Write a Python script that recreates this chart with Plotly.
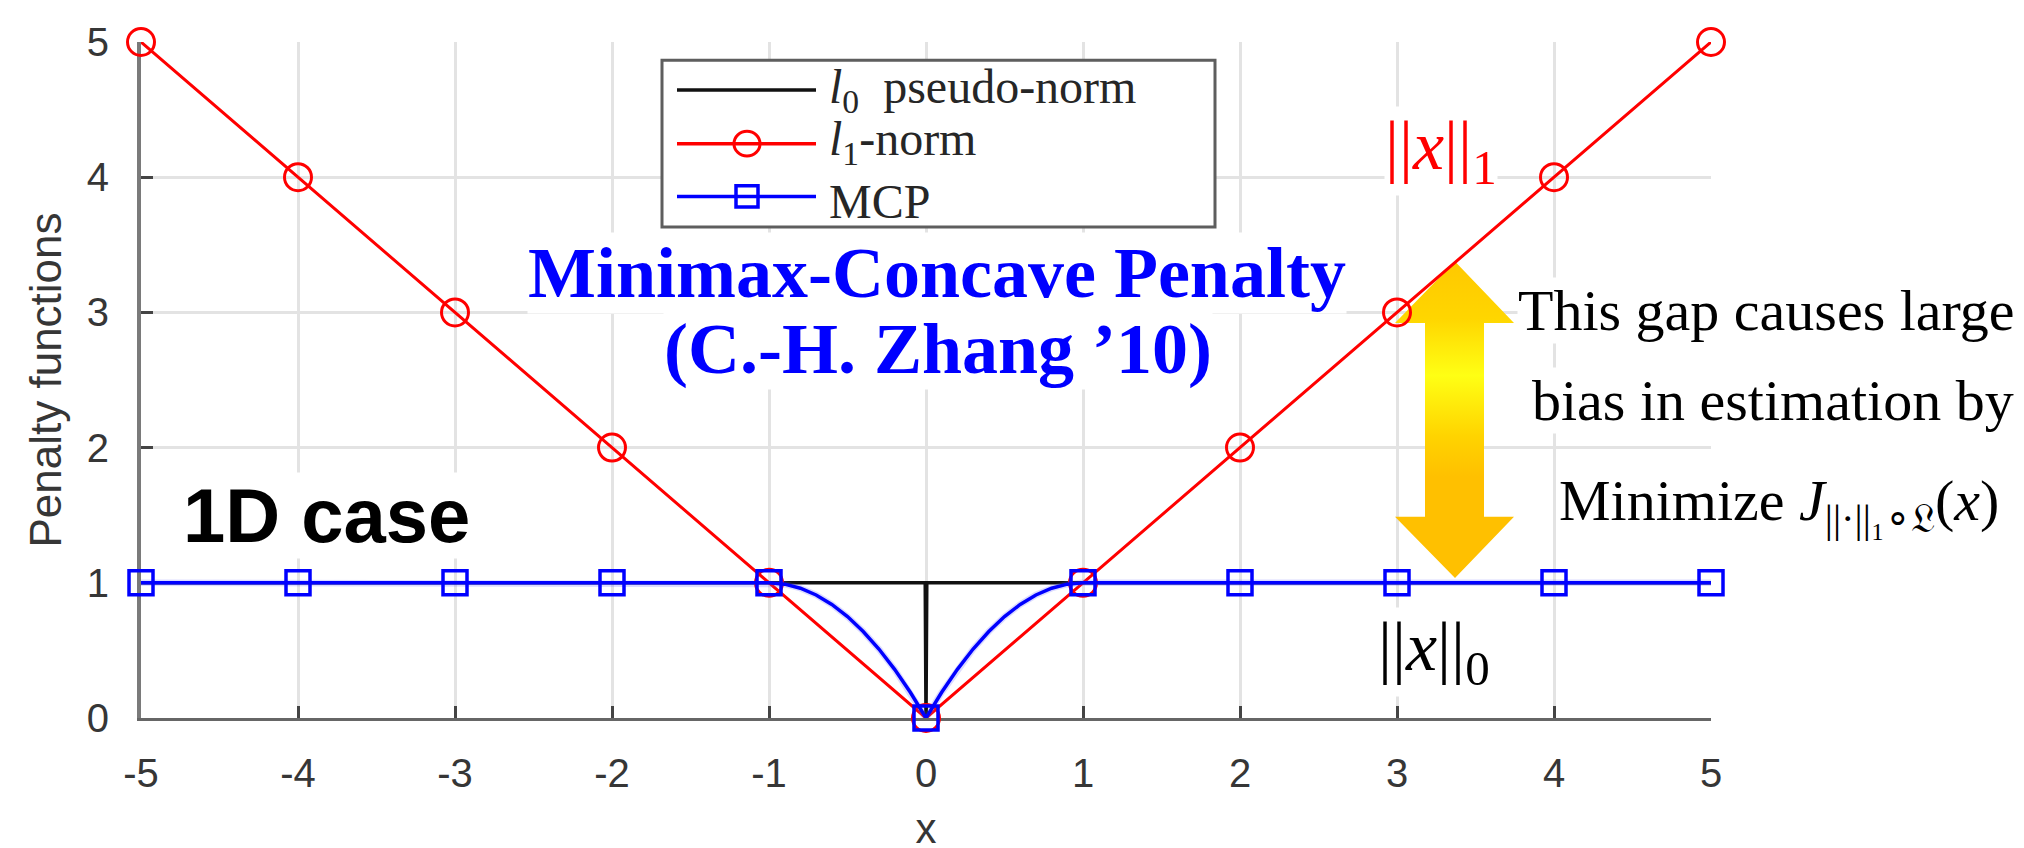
import plotly.graph_objects as go

# ---------------- data ----------------
x_ticks = [-5, -4, -3, -2, -1, 0, 1, 2, 3, 4, 5]
x_tick_labels = ["-5", "-4", "-3", "-2", "-1", "0", "1", "2", "3", "4", "5"]
y_ticks = [0, 1, 2, 3, 4, 5]
y_tick_labels = ["0", "1", "2", "3", "4", "5"]

# l0 pseudo-norm
l0_x = [-5, -4, -3, -2, -1, -0.005, 0, 0.005, 1, 2, 3, 4, 5]
l0_y = [1, 1, 1, 1, 1, 1, 0, 1, 1, 1, 1, 1, 1]

# l1-norm (markers at integer points)
l1_x = [-5, -4, -3, -2, -1, 0, 1, 2, 3, 4, 5]
l1_y = [5, 4, 3, 2, 1, 0, 1, 2, 3, 4, 5]

# MCP curve
mcp_x = [-5, -4, -3, -2, -1, -0.9, -0.8, -0.7, -0.6, -0.5, -0.4, -0.3, -0.2, -0.1, 0,
         0.1, 0.2, 0.3, 0.4, 0.5, 0.6, 0.7, 0.8, 0.9, 1, 2, 3, 4, 5]
mcp_y = [1, 1, 1, 1, 1, 0.99, 0.96, 0.91, 0.84, 0.75, 0.64, 0.51, 0.36, 0.19, 0,
         0.19, 0.36, 0.51, 0.64, 0.75, 0.84, 0.91, 0.96, 0.99, 1, 1, 1, 1, 1]
mcp_mark_x = [-5, -4, -3, -2, -1, 0, 1, 2, 3, 4, 5]
mcp_mark_y = [1, 1, 1, 1, 1, 0, 1, 1, 1, 1, 1]

series_names = ["l0 pseudo-norm", "l1-norm", "MCP"]

# ---------------- layout geometry (pixels) ----------------
W, H = 2024, 848
X0PX, PXPERX = 133, 157.0   # pixel of x=-5, pixels per unit
Y0PX, PXPERY = 733, 141.0   # pixel of y=0, pixels per unit
PLOT_W, PLOT_H = 10 * PXPERX, 5 * PXPERY


def dx(px):
    return (px - X0PX) / PXPERX - 5


def dy(py):
    return (Y0PX - py) / PXPERY


def px_(px):
    return (px - X0PX) / PLOT_W


def py_(py):
    return (Y0PX - py) / PLOT_H


RED = "#ff0000"
BLUE = "#0000ff"
BLACK = "#111111"
SERIF = "Liberation Serif"
SANS = "Liberation Sans"

fig = go.Figure()

# yellow double arrow (decoration)
arrow_px = [(1447, 257), (1506, 321), (1476, 321), (1476, 523), (1506, 523), (1447, 587),
            (1387, 523), (1417, 523), (1417, 321), (1387, 321), (1447, 257)]
fig.add_trace(go.Scatter(
    x=[dx(p[0]) for p in arrow_px], y=[dy(p[1]) for p in arrow_px],
    mode="lines", fill="toself", line=dict(width=0, color="rgba(0,0,0,0)"),
    fillgradient=dict(type="vertical",
                      colorscale=[[0, "#ffc000"], [0.32, "#ffc000"], [0.45, "#ffd400"],
                                  [0.64, "#ffff14"], [0.82, "#ffd600"], [1, "#ffc800"]]),
    hoverinfo="skip", showlegend=False))

# l0
fig.add_trace(go.Scatter(x=l0_x, y=l0_y, mode="lines", name=series_names[0],
                         line=dict(color=BLACK, width=3.5), showlegend=False))
# l1
fig.add_trace(go.Scatter(x=l1_x, y=l1_y, mode="lines+markers", name=series_names[1],
                         line=dict(color=RED, width=3),
                         marker=dict(symbol="circle-open", size=27, color=RED,
                                     line=dict(width=3, color=RED)),
                         cliponaxis=False, showlegend=False))
# MCP halo + line
fig.add_trace(go.Scatter(x=mcp_x, y=mcp_y, mode="lines", hoverinfo="skip",
                         line=dict(color="rgba(90,90,255,0.22)", width=6.5), showlegend=False))
fig.add_trace(go.Scatter(x=mcp_x, y=mcp_y, mode="lines", name=series_names[2],
                         line=dict(color=BLUE, width=3.5), showlegend=False))
fig.add_trace(go.Scatter(x=mcp_mark_x, y=mcp_mark_y, mode="markers", name=series_names[2],
                         marker=dict(symbol="square-open", size=24, color=BLUE,
                                     line=dict(width=3.5, color=BLUE)),
                         cliponaxis=False, showlegend=False))

# ---------------- custom legend ----------------
shapes = []
shapes.append(dict(type="rect", xref="paper", yref="paper", x0=px_(654), x1=px_(1207),
                   y0=py_(221), y1=py_(47),
                   line=dict(color="#5e5e5e", width=3), fillcolor="white", layer="above"))
rows = [78, 134, 189]
cols = [BLACK, RED, BLUE]
for r, c in zip(rows, cols):
    shapes.append(dict(type="line", xref="paper", yref="paper", x0=px_(669), x1=px_(808),
                       y0=py_(r), y1=py_(r), line=dict(color=c, width=3.5), layer="above"))
shapes.append(dict(type="circle", xref="paper", yref="paper", x0=px_(739 - 13), x1=px_(739 + 13),
                   y0=py_(134 + 13), y1=py_(134 - 13), line=dict(color=RED, width=3),
                   fillcolor="rgba(0,0,0,0)", layer="above"))
shapes.append(dict(type="rect", xref="paper", yref="paper", x0=px_(739 - 11), x1=px_(739 + 11),
                   y0=py_(189 + 11), y1=py_(189 - 11), line=dict(color=BLUE, width=3.5),
                   fillcolor="rgba(0,0,0,0)", layer="above"))

legend_texts = ["<i>l</i><sub>0</sub>  pseudo-norm", "<i>l</i><sub>1</sub>-norm", "MCP"]
legend_text_rows = [78, 132, 194]
annotations = []
for r, t in zip(legend_text_rows, legend_texts):
    annotations.append(dict(x=px_(819), y=py_(r), xref="paper", yref="paper", text=t,
                            showarrow=False, xanchor="left", yanchor="middle",
                            font=dict(family=SERIF, size=48, color="#262626")))


# ---------------- text annotations ----------------
def txt(text, xc, yc, size, color, family=SERIF, weight="normal", xanchor="center"):
    annotations.append(dict(x=px_(xc), y=py_(yc), xref="paper", yref="paper", text=text,
                            showarrow=False, xanchor=xanchor, yanchor="middle",
                            bgcolor="white", borderpad=0,
                            font=dict(family=family, size=size, color=color, weight=weight)))


txt("Minimax-Concave Penalty", 929, 269, 72, BLUE, weight="bold")
txt("(C.-H. Zhang ’10)", 930, 348, 72, BLUE, weight="bold")
txt("1D case", 174, 522, 76, "#000000", family=SANS, weight="bold", xanchor="left")
txt("This gap causes large", 1758, 308, 58, "#000000")
txt("bias in estimation by", 1765, 402, 58, "#000000")
txt("Minimize <i>J</i><sub>||·||₁∘𝔏</sub>(<i>x</i>)", 1771, 510, 58, "#000000")
txt("||<i>x</i>||<sub>1</sub>", 1376, 142, 70, RED, xanchor="left")
txt("||<i>x</i>||<sub>0</sub>", 1369, 664, 70, "#000000", xanchor="left")

TICKFONT = dict(family=SANS, size=40, color="#363636")

fig.update_layout(
    width=W, height=H, autosize=False,
    margin=dict(l=X0PX, r=W - (X0PX + PLOT_W), t=Y0PX - PLOT_H, b=H - Y0PX),
    paper_bgcolor="white", plot_bgcolor="white",
    shapes=shapes, annotations=annotations, showlegend=False,
    xaxis=dict(range=[-5, 5], tickvals=x_ticks, ticktext=x_tick_labels, showgrid=True,
               gridcolor="#e3e3e3", gridwidth=3, zeroline=False, showline=True,
               linecolor="#666666", linewidth=3, ticks="inside", ticklen=12, tickwidth=3,
               tickcolor="#444444", tickfont=TICKFONT, ticklabelstandoff=18,
               layer="below traces",
               title=dict(text="x", font=dict(family=SANS, size=42, color="#363636"), standoff=20)),
    yaxis=dict(range=[0, 5], tickvals=y_ticks, ticktext=y_tick_labels, showgrid=True,
               gridcolor="#e3e3e3", gridwidth=3, zeroline=False, showline=True,
               linecolor="#7a7a7a", linewidth=4, ticks="inside", ticklen=12, tickwidth=3,
               tickcolor="#444444", tickfont=TICKFONT, ticklabelstandoff=20,
               layer="below traces",
               title=dict(text="Penalty functions", font=dict(family=SANS, size=44, color="#363636"),
                          standoff=12)),
)

fig.write_html("out.html")
